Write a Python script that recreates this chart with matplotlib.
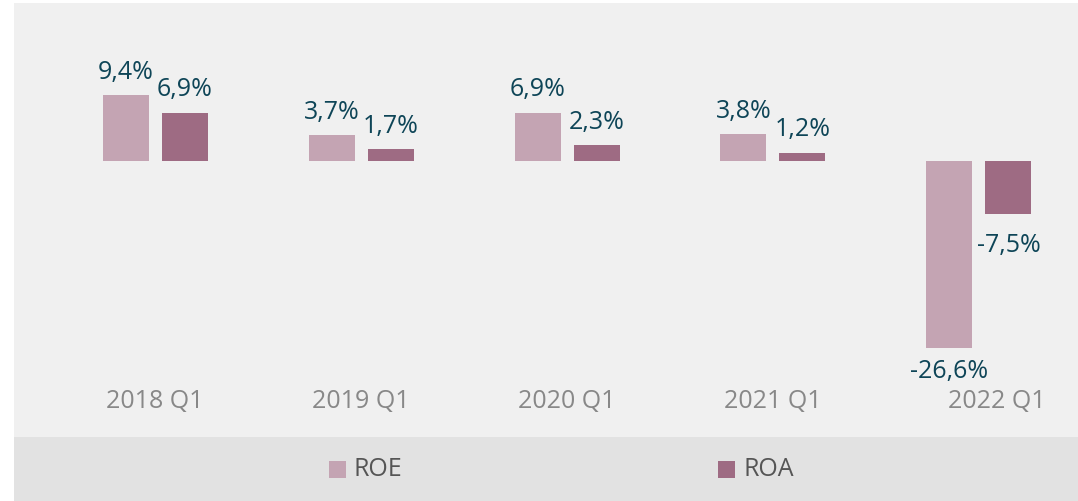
import numpy as np
import matplotlib.pyplot as plt
from matplotlib.patches import Rectangle

periods = ["2018 Q1", "2019 Q1", "2020 Q1", "2021 Q1", "2022 Q1"]
roe = [9.4, 3.7, 6.9, 3.8, -26.6]
roa = [6.9, 1.7, 2.3, 1.2, -7.5]
series_names = ["ROE", "ROA"]

c_roe = "#c4a4b3"
c_roa = "#9e6b83"
c_lbl = "#0e4557"
c_cat = "#888888"
c_leg = "#555555"

W, H = 1078, 502
fig = plt.figure(figsize=(W / 100, H / 100), dpi=100)
fig.patch.set_facecolor("white")
plt.rcParams["font.family"] = ["Open Sans", "DejaVu Sans"]

# legend band
fig.patches.append(Rectangle((14 / W, 0), 1 - 14 / W, 64 / H, transform=fig.transFigure,
                             facecolor="#e2e2e2", edgecolor="none", zorder=0))

ax = fig.add_axes([14 / W, 64 / H, (W - 14) / W, (438 - 4) / H])
ax.set_facecolor("#f0f0f0")
for s in ax.spines.values():
    s.set_visible(False)
ax.set_xticks([])
ax.set_yticks([])

px = 7.02  # pixels per percent
ax.set_xlim(-141 / 206, (W - 155) / 206)
ax.set_ylim(-(438 - 162) / px, (162 - 4) / px)

x = np.arange(len(periods))
bw = 46 / 206
off = 29.5 / 206
ax.bar(x - off, roe, bw, color=c_roe, edgecolor="none")
ax.bar(x + off, roa, bw, color=c_roa, edgecolor="none")

def fmt(v):
    return f"{v:.1f}%".replace(".", ",")

fs = 18
for i in range(len(periods)):
    for vals, o, neg_off in ((roe, -off, -7.5), (roa, off, -13)):
        v = vals[i]
        if v >= 0:
            ax.annotate(fmt(v), (x[i] + o, v), xytext=(0, 8), textcoords="offset points",
                        ha="center", va="bottom", color=c_lbl, fontsize=fs)
        else:
            ax.annotate(fmt(v), (x[i] + o, v), xytext=(0, neg_off), textcoords="offset points",
                        ha="center", va="top", color=c_lbl, fontsize=fs)
    dx = 18 / 206 if i == len(periods) - 1 else 0
    ax.text(x[i] + dx, -(402 - 162) / px, periods[i], ha="center", va="center",
            color=c_cat, fontsize=fs)

# legend
for name, col, sx in ((series_names[0], c_roe, 329), (series_names[1], c_roa, 718)):
    fig.patches.append(Rectangle((sx / W, (502 - 479) / H), 17 / W, 17 / H,
                                 transform=fig.transFigure, facecolor=col, edgecolor="none"))
    fig.text((sx + 25) / W, (502 - 470) / H, name, ha="left", va="center",
             color=c_leg, fontsize=fs)

fig.savefig("out.png", dpi=100, facecolor="white")
